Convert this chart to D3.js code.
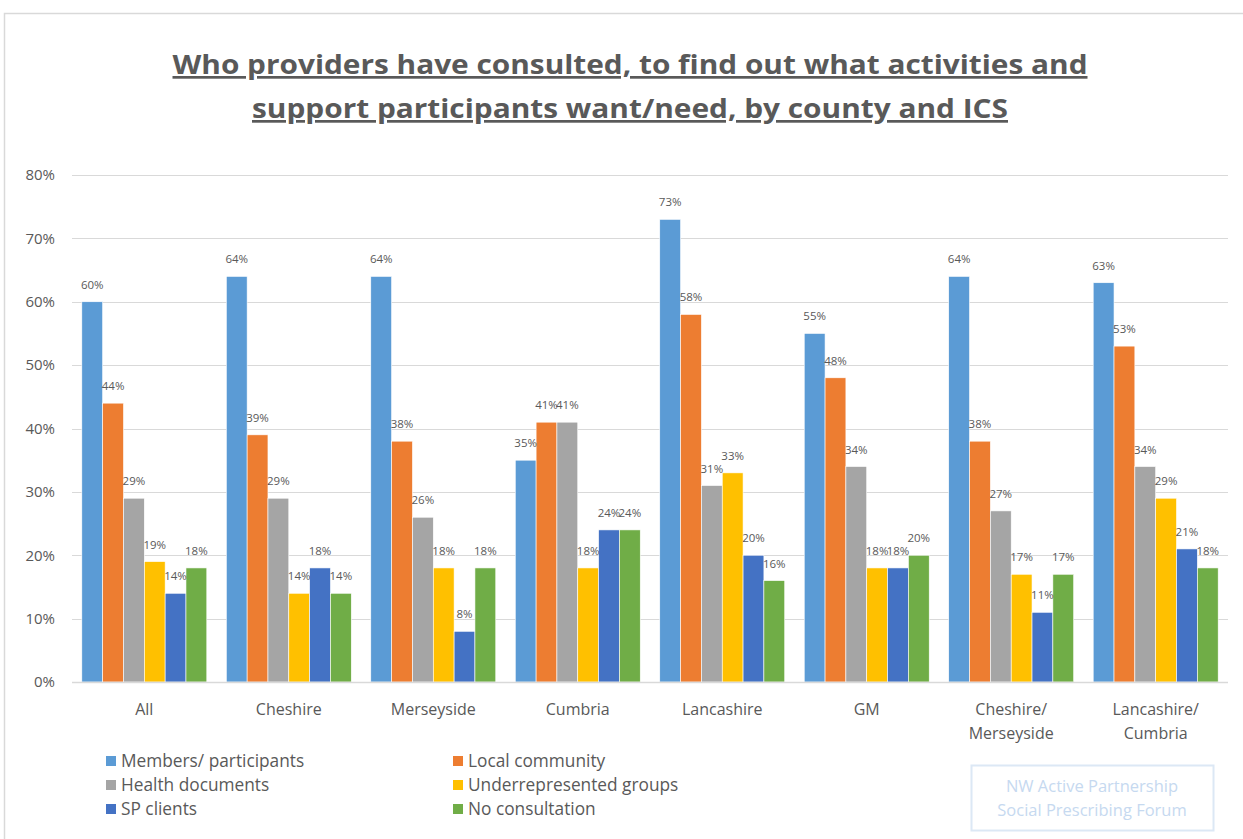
<!DOCTYPE html>
<html>
<head>
<meta charset="utf-8">
<script src="https://cdn.jsdelivr.net/npm/d3@7"></script>
<style>
  html, body { margin: 0; padding: 0; background: #fff; }
  svg { display: block; }
</style>
</head>
<body>
<svg id="chart" width="1243" height="839"></svg>
<script>
// Groups along the x axis (county / ICS)
const categories = ["All", "Cheshire", "Merseyside", "Cumbria", "Lancashire", "GM", "Cheshire/\nMerseyside", "Lancashire/\nCumbria"];

// Who was consulted (one series per group of bars)
const seriesNames = ["Members/ participants", "Local community", "Health documents", "Underrepresented groups", "SP clients", "No consultation"];
const seriesColors = ["#5B9BD5", "#ED7D31", "#A5A5A5", "#FFC000", "#4472C4", "#70AD47"];

// Percentage values, one array per series, in category order
const membersParticipants     = [60, 64, 64, 35, 73, 55, 64, 63];
const localCommunity          = [44, 39, 38, 41, 58, 48, 38, 53];
const healthDocuments         = [29, 29, 26, 41, 31, 34, 27, 34];
const underrepresentedGroups  = [19, 14, 18, 18, 33, 18, 17, 29];
const spClients               = [14, 18,  8, 24, 20, 18, 11, 21];
const noConsultation          = [18, 14, 18, 24, 16, 20, 17, 18];

const yTicks = [0, 10, 20, 30, 40, 50, 60, 70, 80];

const seriesValues = [membersParticipants, localCommunity, healthDocuments, underrepresentedGroups, spClients, noConsultation];

const svg = d3.select("#chart");
const textColor = "#595959";
const font = "'Open Sans', sans-serif";

// Chart frame
svg.append("rect")
  .attr("x", 4.5).attr("y", 13.5)
  .attr("width", 1300).attr("height", 900)
  .attr("fill", "#fff").attr("stroke", "#d9d9d9").attr("stroke-width", 1.5);

// Title, two underlined lines
const titleLines = [
  { text: "Who providers have consulted, to find out what activities and", width: 915 },
  { text: "support participants want/need, by county and ICS", width: 756 }
];
svg.append("g").selectAll("text")
  .data(titleLines)
  .join("text")
  .attr("x", 630)
  .attr("y", (d, i) => 74 + i * 44)
  .attr("text-anchor", "middle")
  .attr("font-family", font)
  .attr("font-weight", "bold")
  .attr("font-size", 27)
  .attr("textLength", d => d.width)
  .attr("lengthAdjust", "spacingAndGlyphs")
  .attr("fill", textColor)
  .attr("text-decoration", "underline")
  .text(d => d.text);

// Plot area
const plot = { left: 72, right: 1228, top: 175, bottom: 682 };

const x0 = d3.scaleBand()
  .domain(categories)
  .range([plot.left, plot.right])
  .paddingInner(0.135)
  .paddingOuter(0.068);

const x1 = d3.scaleBand()
  .domain(d3.range(seriesNames.length))
  .range([0, x0.bandwidth()]);

const y = d3.scaleLinear()
  .domain([0, 80])
  .range([plot.bottom, plot.top]);

// Horizontal gridlines
svg.append("g").selectAll("line")
  .data(yTicks.filter(t => t > 0))
  .join("line")
  .attr("x1", plot.left).attr("x2", plot.right)
  .attr("y1", d => Math.round(y(d)) + 0.5).attr("y2", d => Math.round(y(d)) + 0.5)
  .attr("stroke", "#d9d9d9").attr("stroke-width", 1);

// Y axis labels
const yAxis = d3.axisLeft(y)
  .tickValues(yTicks)
  .tickFormat(d => d + "%")
  .tickSize(0)
  .tickPadding(17);
const yg = svg.append("g")
  .attr("transform", `translate(${plot.left},0)`)
  .call(yAxis);
yg.select(".domain").remove();
yg.selectAll("text")
  .attr("font-family", font)
  .attr("font-size", 15)
  .attr("fill", textColor);

// Bars
const rows = categories.map((c, ci) => ({ cat: c, vals: seriesValues.map((s, si) => ({ si, v: s[ci] })) }));

const groups = svg.append("g").selectAll("g")
  .data(rows)
  .join("g")
  .attr("transform", d => `translate(${x0(d.cat)},0)`);

groups.selectAll("rect")
  .data(d => d.vals)
  .join("rect")
  .attr("x", d => x1(d.si))
  .attr("y", d => y(d.v))
  .attr("width", x1.bandwidth())
  .attr("height", d => y(0) - y(d.v))
  .attr("fill", d => seriesColors[d.si])
  .attr("stroke", "#fff")
  .attr("stroke-width", 0.6);

// Value labels above each bar
groups.selectAll("text")
  .data(d => d.vals)
  .join("text")
  .attr("x", d => x1(d.si) + x1.bandwidth() / 2)
  .attr("y", d => y(d.v) - 13)
  .attr("text-anchor", "middle")
  .attr("font-family", font)
  .attr("font-size", 11.5)
  .attr("fill", textColor)
  .text(d => d.v + "%");

// Baseline
svg.append("line")
  .attr("x1", plot.left).attr("x2", plot.right)
  .attr("y1", plot.bottom + 0.5).attr("y2", plot.bottom + 0.5)
  .attr("stroke", "#d9d9d9").attr("stroke-width", 1.5);

// Category labels (may wrap to two lines)
const catLabels = svg.append("g").selectAll("text")
  .data(categories)
  .join("text")
  .attr("x", d => x0(d) + x0.bandwidth() / 2)
  .attr("y", 715)
  .attr("text-anchor", "middle")
  .attr("font-family", font)
  .attr("font-size", 16)
  .attr("fill", textColor);
catLabels.selectAll("tspan")
  .data(d => d.split("\n"))
  .join("tspan")
  .attr("x", function() { return d3.select(this.parentNode).attr("x"); })
  .attr("dy", (d, i) => i === 0 ? 0 : 23.5)
  .text(d => d);

// Legend: two columns, three rows
const legend = svg.append("g").selectAll("g")
  .data(seriesNames)
  .join("g")
  .attr("transform", (d, i) => `translate(${i % 2 === 0 ? 106 : 453},${761 + Math.floor(i / 2) * 24})`);
legend.append("rect")
  .attr("x", 0).attr("y", -5)
  .attr("width", 10).attr("height", 10)
  .attr("fill", (d, i) => seriesColors[i]);
legend.append("text")
  .attr("x", 15).attr("y", 0)
  .attr("dy", "0.35em")
  .attr("font-family", font)
  .attr("font-size", 17.3)
  .attr("fill", textColor)
  .text(d => d);

// Forum credit box
svg.append("rect")
  .attr("x", 971.5).attr("y", 765.5)
  .attr("width", 242).attr("height", 65)
  .attr("fill", "none").attr("stroke", "#dce8f5").attr("stroke-width", 2);
svg.append("g").selectAll("text")
  .data(["NW Active Partnership", "Social Prescribing Forum"])
  .join("text")
  .attr("x", 1092)
  .attr("y", (d, i) => 792 + i * 24)
  .attr("text-anchor", "middle")
  .attr("font-family", font)
  .attr("font-size", 16.5)
  .attr("fill", "#c6d9f0")
  .text(d => d);
</script>
</body>
</html>
